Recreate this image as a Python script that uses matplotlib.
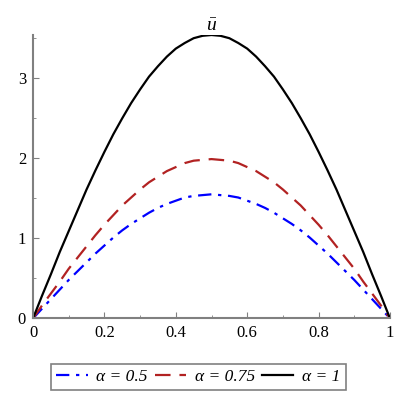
import matplotlib

matplotlib.use("Agg")
import matplotlib.pyplot as plt
from matplotlib.ticker import MultipleLocator, FuncFormatter

# values, x every 0.025
x = [i / 40 for i in range(41)]
u_a050 = [0.0, 0.12, 0.24, 0.36, 0.48, 0.59, 0.70, 0.81, 0.91, 1.01, 1.10,
          1.18, 1.25, 1.32, 1.38, 1.43, 1.47, 1.51, 1.53, 1.54, 1.55,
          1.54, 1.53, 1.51, 1.47, 1.43, 1.38, 1.32, 1.25, 1.18, 1.10,
          1.01, 0.91, 0.81, 0.70, 0.59, 0.48, 0.36, 0.24, 0.12, 0.0]
u_a075 = [0.0, 0.16, 0.31, 0.46, 0.62, 0.76, 0.90, 1.04, 1.17, 1.29, 1.41,
          1.51, 1.61, 1.70, 1.77, 1.84, 1.89, 1.94, 1.97, 1.98, 1.99,
          1.98, 1.97, 1.94, 1.89, 1.84, 1.77, 1.70, 1.61, 1.51, 1.41,
          1.29, 1.17, 1.04, 0.90, 0.76, 0.62, 0.46, 0.31, 0.16, 0.0]
u_a100 = [0.0, 0.28, 0.55, 0.83, 1.09, 1.35, 1.61, 1.85, 2.08, 2.30, 2.50,
          2.69, 2.86, 3.02, 3.15, 3.27, 3.37, 3.44, 3.50, 3.53, 3.54,
          3.53, 3.50, 3.44, 3.37, 3.27, 3.15, 3.02, 2.86, 2.69, 2.50,
          2.30, 2.08, 1.85, 1.61, 1.35, 1.09, 0.83, 0.55, 0.28, 0.0]

labels = ["α = 0.5", "α = 0.75", "α = 1"]

plt.rcParams["font.family"] = ["Liberation Serif", "DejaVu Serif"]
plt.rcParams["mathtext.fontset"] = "custom"
plt.rcParams["mathtext.rm"] = "Liberation Serif"
plt.rcParams["mathtext.it"] = "Liberation Serif:italic"

fig = plt.figure(figsize=(4, 4), dpi=100)
ax = fig.add_axes([0.0825, 0.204, 0.8925, 0.7085])

ax.plot(x, u_a050, color="#0000ff", lw=1.6, dashes=(6, 3, 1.5, 3), label=labels[0])
ax.plot(x, u_a075, color="#b22222", lw=1.6, dashes=(7, 4), label=labels[1])
ax.plot(x, u_a100, color="black", lw=1.6, label=labels[2])

ax.set_xlim(0, 1)
ax.set_ylim(0, 3.54)
ax.xaxis.set_major_locator(MultipleLocator(0.2))
ax.xaxis.set_minor_locator(MultipleLocator(0.1))
ax.yaxis.set_major_locator(MultipleLocator(1))
ax.yaxis.set_minor_locator(MultipleLocator(0.5))
ax.xaxis.set_major_formatter(FuncFormatter(lambda v, p: f"{v:g}"))

for side in ("top", "right"):
    ax.spines[side].set_visible(False)
for side in ("left", "bottom"):
    ax.spines[side].set_color("#808080")
    ax.spines[side].set_linewidth(1.5)
ax.tick_params(which="both", direction="in", color="#808080", labelsize=12)
ax.tick_params(axis="x", pad=5)
ax.tick_params(axis="y", pad=5)
ax.tick_params(which="major", length=4)
ax.tick_params(which="minor", length=2.5)

ax.set_title(r"$\bar{u}$", fontsize=14, pad=2)

leg = fig.legend(loc="center", bbox_to_anchor=(0.496, 0.0575), ncol=3,
                 prop={"family": "Liberation Serif", "style": "italic", "size": 12.5},
                 fancybox=False, edgecolor="#808080", framealpha=1,
                 handlelength=1.8, handletextpad=0.5, columnspacing=0.4,
                 borderpad=0.3, borderaxespad=0)
leg.get_frame().set_linewidth(1.2)

fig.savefig("out.png", dpi=100)
